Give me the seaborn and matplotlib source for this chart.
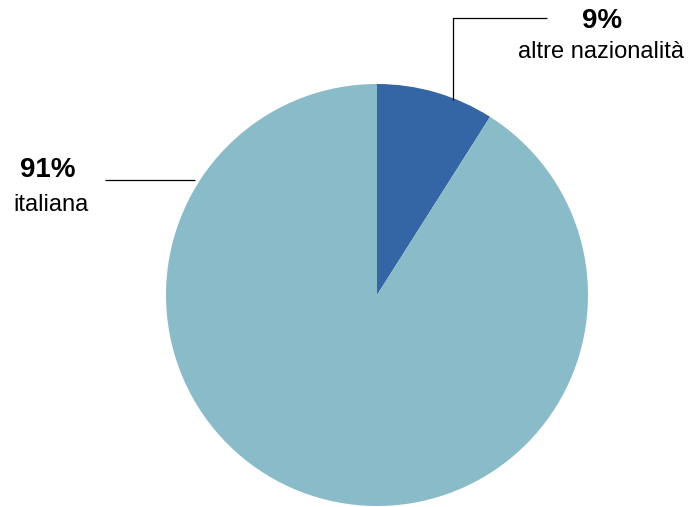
import matplotlib
matplotlib.use("Agg")
import matplotlib.pyplot as plt
import seaborn as sns

# Nationality breakdown
categories = ["altre nazionalità", "italiana"]
shares = [9, 91]
pct_labels = ["9%", "91%"]
colors = ["#3465a4", "#8abbc9"]

sns.set_theme(style="white")
plt.rcParams["font.family"] = ["Liberation Sans", "DejaVu Sans"]

W, H, DPI = 689, 507, 100
fig = plt.figure(figsize=(W / DPI, H / DPI), dpi=DPI)
fig.patch.set_facecolor("white")

cx, cy, r = 377, 295, 211
ax = fig.add_axes([(cx - r) / W, (H - cy - r) / H, 2 * r / W, 2 * r / H])
ax.pie(shares, colors=colors, startangle=90, counterclock=False, radius=1,
       wedgeprops=dict(linewidth=0))
ax.set_xlim(-1, 1)
ax.set_ylim(-1, 1)
ax.set_aspect("equal")
ax.axis("off")

# leader lines
ax.plot([0.36, 0.36, 0.806], [0.925, 1.313, 1.313], color="black", lw=0.9,
        clip_on=False, solid_capstyle="butt")
ax.plot([-0.863, -1.289], [0.545, 0.545], color="black", lw=0.9,
        clip_on=False, solid_capstyle="butt")

# labels
ax.text(1.066, 1.300, pct_labels[0], ha="center", va="center", fontsize=20,
        fontweight="bold", color="black", clip_on=False)
ax.text(1.062, 1.152, categories[0], ha="center", va="center", fontsize=17,
        color="black", clip_on=False)
ax.text(-1.559, 0.592, pct_labels[1], ha="center", va="center", fontsize=20,
        fontweight="bold", color="black", clip_on=False)
ax.text(-1.545, 0.427, categories[1], ha="center", va="center", fontsize=17,
        color="black", clip_on=False)

fig.savefig("out.png", dpi=DPI, facecolor="white")
